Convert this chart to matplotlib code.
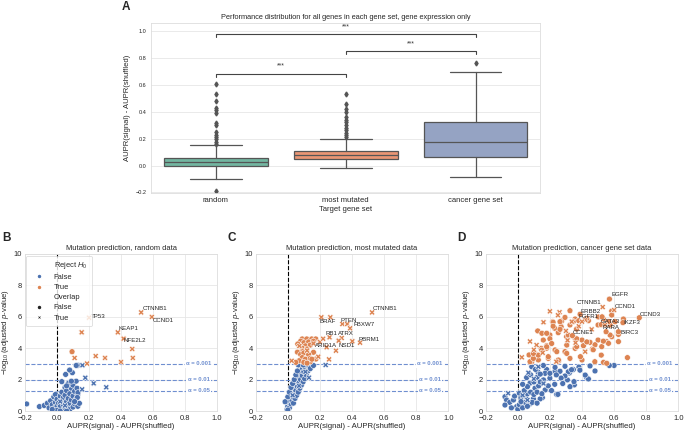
import matplotlib
matplotlib.use('Agg')
import matplotlib.pyplot as plt
import numpy as np
import seaborn as sns
from matplotlib.lines import Line2D

sns.set_style('whitegrid')
plt.rcParams['font.family'] = ['Liberation Sans', 'DejaVu Sans']
plt.rcParams['mathtext.fontset'] = 'custom'
plt.rcParams['mathtext.rm'] = 'Liberation Sans'
plt.rcParams['mathtext.it'] = 'Liberation Sans:italic'
plt.rcParams['axes.linewidth'] = 0.6
plt.rcParams['grid.linewidth'] = 0.6
plt.rcParams['axes.edgecolor'] = '#dddddd'
plt.rcParams['grid.color'] = '#e6e6e6'

# ---- panel A: box statistics ----
gene_sets = ['random', 'most mutated', 'cancer gene set']
box_q1 = [-0.005, 0.045, 0.065]
box_med = [0.028, 0.077, 0.177]
box_q3 = [0.058, 0.107, 0.327]
whisker_lo = [-0.10, -0.015, -0.085]
whisker_hi = [0.15, 0.195, 0.692]
outliers = [
    [0.605, 0.535, 0.48, 0.43, 0.41, 0.39, 0.315, 0.30, 0.25, 0.23, 0.215, 0.195, 0.175, 0.16, -0.19],
    [0.535, 0.46, 0.42, 0.395, 0.36, 0.34, 0.32, 0.30, 0.28, 0.265, 0.245, 0.225, 0.21],
    [0.765],
]
sig_pairs = [(0, 1), (1, 2), (0, 2)]
sig_heights = [0.683, 0.85, 0.978]

# ---- panel B: random genes ----
b_circ_x = [-0.19, -0.11, -0.08, -0.06, -0.05, -0.04, -0.03, -0.02, -0.02, -0.01, -0.01, 0.0, 0.0, 0.01,
            0.01, 0.02, 0.02, 0.03, 0.03, 0.04, 0.04, 0.04, 0.05, 0.05, 0.05, 0.06, 0.06, 0.07, 0.07, 0.07,
            0.08, 0.08, 0.08, 0.09, 0.09, 0.10, 0.10, 0.10, 0.11, 0.11, 0.12, 0.12, 0.13, 0.13, 0.14, 0.125,
            0.131, 0.127, 0.11, 0.03, 0.06, 0.09, 0.054, 0.096, 0.079, 0.131, 0.12, 0.0, -0.03, 0.02, 0.06,
            0.094]
b_circ_y = [0.45, 0.28, 0.35, 0.5, 0.2, 0.65, 0.4, 0.9, 0.15, 0.55, 1.05, 0.3, 0.75, 0.1,
            0.5, 0.95, 0.3, 0.65, 1.2, 0.05, 0.4, 0.85, 1.5, 0.2, 1.0, 0.6, 1.3, 0.3, 0.8, 1.75,
            0.1, 1.1, 0.5, 1.45, 0.7, 0.25, 0.95, 1.65, 0.45, 1.25, 0.75, 1.9, 1.05, 0.3, 0.49, 1.45,
            1.17, 0.86, 0.6, 1.87, 1.6, 1.9, 2.33, 2.44, 2.61, 2.91, 2.9, 0.05, 0.1, 0.0, 0.0,
            3.78]
b_cross_x = [0.159, 0.177, 0.229, 0.308, 0.157, 0.02, 0.05,
             0.11, 0.242, 0.30, 0.188, 0.40, 0.474, 0.47, 0.154, 0.2, 0.38, 0.416, 0.526, 0.593]
b_cross_y = [2.91, 2.12, 1.76, 1.51, 1.38, 0.6, 0.35,
             3.38, 3.5, 3.38, 3.02, 3.12, 3.38, 3.95, 5.01, 5.94, 5.01, 4.61, 6.28, 5.99]
b_genes = ['TP53', 'CTNNB1', 'CCND1', 'KEAP1', 'NFE2L2']
b_gene_x = [0.2, 0.526, 0.593, 0.38, 0.416]
b_gene_y = [5.94, 6.28, 5.99, 5.01, 4.61]
b_offsets = [(1, 1.1, 'left'), (0.8, 2.6, 'left'), (0.4, -2.9, 'left'), (0.6, 2.9, 'left'), (0.3, -1.4, 'left')]

# ---- panel C: most mutated genes ----
c_circ_x = [-0.005, 0.0, 0.005, 0.01, 0.015, 0.02, 0.02, 0.025, 0.03, 0.03, 0.035, 0.04, 0.04, 0.045,
            0.05, 0.05, 0.055, 0.06, 0.06, 0.065, 0.07, 0.07, 0.075, 0.08, 0.08, 0.085, 0.09, 0.09,
            0.095, 0.10, 0.10, 0.105, 0.11, 0.115, 0.12, 0.125, 0.13, 0.14, 0.16, 0.066, 0.097, -0.01,
            0.0, 0.01, 0.02, 0.03, 0.04, 0.05, 0.06, -0.017, 0.0,
            0.09, 0.118, 0.149, 0.174, 0.08, 0.10, 0.13, 0.16, 0.07, 0.11, 0.14, 0.09, 0.12, 0.062,
            0.093, 0.128, 0.14, 0.088, 0.16, 0.175, 0.06, 0.08, 0.10, 0.13, 0.09, 0.11, 0.14, 0.07,
            0.10, 0.12, 0.15, 0.05]
c_circ_y = [0.1, 0.3, 0.55, 0.2, 0.75, 0.45, 1.0, 0.65, 1.25, 0.9, 0.5, 1.45, 1.1, 0.8,
            1.7, 1.3, 1.0, 1.95, 1.55, 1.2, 2.2, 1.8, 1.45, 2.45, 2.0, 1.65, 2.7, 2.25,
            1.85, 2.9, 2.5, 2.05, 2.75, 2.3, 2.9, 2.55, 2.9, 2.7, 2.9, 2.93, 2.93, 0.6,
            0.9, 1.2, 1.5, 1.75, 2.0, 2.3, 2.55, 0.59, 0.06,
            4.59, 4.59, 4.59, 4.59, 4.45, 4.35, 4.4, 4.45, 4.2, 4.15, 4.2, 4.0, 3.95, 4.27,
            3.78, 3.4, 3.14, 3.2, 3.74, 3.31, 3.75, 3.6, 3.7, 3.6, 3.4, 3.3, 3.35, 3.2,
            3.1, 3.05, 3.3, 3.1]
c_cross_x = [0.236, 0.132, 0.11, 0.03, 0.07,
             0.024, 0.072, 0.12, 0.16, 0.209, 0.265, 0.34, 0.37, 0.388, 0.525, 0.26, 0.336,
             0.317, 0.402, 0.45, 0.30, 0.242, 0.257, 0.19, 0.20, 0.22]
c_cross_y = [2.93, 2.12, 2.5, 1.0, 1.6,
             3.2, 4.14, 3.85, 4.3, 5.97, 5.97, 5.54, 5.54, 5.27, 6.28, 4.69, 4.65,
             4.48, 4.44, 4.35, 3.84, 4.06, 3.29, 3.46, 4.4, 4.6]
c_genes = ['CTNNB1', 'BRAF', 'PTEN', 'FBXW7', 'RB1', 'ATRX', 'ARID1A', 'NSD1', 'PBRM1']
c_gene_x = [0.525, 0.209, 0.34, 0.388, 0.26, 0.336, 0.242, 0.30, 0.45]
c_gene_y = [6.28, 5.97, 5.54, 5.27, 4.69, 4.65, 4.06, 3.84, 4.35]
c_offsets = [(0.5, 2.6, 'left'), (-1.4, -2.7, 'left'), (-1.4, 2.2, 'left'), (2.4, 2.4, 'left'),
             (-3, 2.6, 'left'), (-2.4, 3, 'left'), (-8.4, 1.4, 'left'), (1.7, 3.9, 'left'),
             (-1.2, 2.5, 'left')]

# ---- panel D: cancer gene set ----
d_circ_x = [0.087, 0.124, 0.18, 0.232, 0.263, 0.294, 0.321, 0.346, 0.381, 0.309, 0.352, 0.429, 0.242,
            0.17, 0.107, 0.076, 0.16, 0.2, 0.055, 0.6, 0.481, 0.44, 0.42, 0.315, 0.35, 0.325, 0.23,
            0.25, 0.153, 0.45, 0.387, 0.335, 0.232, 0.159, 0.17, 0.294, 0.57,
            -0.08, -0.07, -0.05, -0.027, -0.02, 0.01, 0.02, 0.045, 0.076, 0.097, 0.139, -0.08, -0.007,
            0.0, 0.01, 0.03, 0.05, 0.06, 0.08, 0.10, 0.12, 0.04, -0.04, 0.02, 0.06, 0.09, 0.12, 0.15,
            0.13, 0.10, 0.08, 0.12, 0.14, 0.19, 0.21, 0.06, 0.03, 0.11, 0.14, 0.20, 0.27, 0.28, 0.24,
            0.325, 0.217, 0.273, 0.357, 0.44, 0.23, 0.27, 0.325, 0.366, 0.124, 0.15, 0.2, 0.252, 0.304,
            0.357, 0.4, 0.45, 0.5, 0.553, 0.585, 0.565, 0.523, 0.465, 0.409, 0.357, 0.294, 0.232, 0.18,
            0.145, 0.107, 0.07, 0.087, 0.128, 0.19, 0.254, 0.325, 0.4, 0.534, 0.683, 0.627, 0.627,
            0.575, 0.606, 0.658, 0.757, 0.571, 0.585, 0.585, 0.533, 0.5, 0.294, 0.22, 0.263, 0.346,
            0.388, 0.43, 0.502, 0.565, 0.655, 0.627, 0.575, 0.533, 0.481, 0.43, 0.367, 0.315, 0.263,
            0.22, 0.18, 0.159, 0.2, 0.305, 0.367, 0.47, 0.52, 0.48, 0.554, 0.39, 0.305, 0.243, 0.18,
            0.19, 0.253, 0.076, 0.097, 0.128, 0.149, 0.18, 0.211, 0.097, 0.525, 0.38, 0.52, 0.55, 0.34]
d_circ_y = [2.82, 2.5, 2.64, 2.53, 2.53, 2.85, 2.42, 2.64, 2.8, 1.98, 1.66, 2.13, 1.06,
            1.34, 1.45, 1.77, 1.98, 2.09, 2.13, 2.9, 2.55, 2.04, 2.29, 2.5, 1.87, 1.55, 1.7,
            1.06, 0.85, 2.87, 2.6, 2.63, 2.78, 2.9, 2.4, 2.23, 2.9,
            0.91, 0.7, 0.55, 0.7, 0.95, 1.13, 0.85, 0.55, 0.45, 0.77, 0.77, 0.38, 0.28,
            0.1, 0.4, 0.2, 0.9, 1.1, 1.2, 1.05, 1.2, 1.3, 0.2, 0.6, 0.3, 0.55, 0.5, 1.1,
            1.6, 1.85, 2.3, 2.15, 1.85, 1.6, 1.3, 1.55, 1.7, 2.65, 2.35, 2.4, 2.1, 1.75, 2.3,
            6.39, 5.69, 5.73, 5.86, 5.75, 5.27, 5.37, 5.48, 5.22, 5.1, 4.95, 4.84, 4.99, 4.73,
            4.63, 4.52, 4.37, 4.52, 4.42, 4.73, 4.31, 4.1, 3.95, 4.16, 3.99, 3.78, 3.89, 4.16,
            3.99, 3.67, 3.57, 3.14, 3.25, 3.35, 3.18, 3.35, 3.25, 3.1, 3.4, 4.88, 4.42,
            5.48, 5.69, 5.86, 5.94, 7.13, 6.37, 6.11, 5.86, 5.48, 5.96, 5.65, 5.69, 5.69,
            6.16, 5.9, 5.99, 5.69, 5.63, 5.05, 4.84, 4.45, 4.22, 4.4, 4.6, 4.84, 5.2,
            5.4, 4.95, 4.52, 4.6, 4.2, 4.1, 3.9, 3.56, 3.14, 3.04, 3.46, 3.67, 3.78, 4.0,
            3.46, 3.25, 3.14, 3.35, 3.56, 3.88, 4.09, 4.3, 3.67, 6.0, 5.75, 5.5, 5.05, 4.8]
d_cross_x = [0.066, 0.128, -0.06, 0.10, 0.16, 0.03, 0.06,
             0.025, 0.076, 0.117, 0.155, 0.24, 0.2, 0.26, 0.25, 0.16, 0.336, 0.38, 0.42, 0.4, 0.543,
             0.31, 0.36, 0.42, 0.3, 0.46, 0.6, 0.529, 0.1]
d_cross_y = [2.44, 2.82, 1.13, 2.05, 1.75, 1.0, 0.7,
             3.42, 4.43, 4.2, 3.71, 3.14, 6.35, 6.29, 6.1, 5.65, 5.69, 5.4, 5.8, 5.69, 5.48,
             4.5, 4.35, 3.78, 5.1, 5.2, 6.43, 6.62, 3.9]
d_genes = ['EGFR', 'CTNNB1', 'CCND1', 'ERBB2', 'FGFR1', 'GATA3', 'IKZF3', 'RARA', 'CCNE1', 'BIRC3', 'CCND3']
d_gene_x = [0.571, 0.529, 0.60, 0.525, 0.38, 0.52, 0.658, 0.55, 0.34, 0.627, 0.757]
d_gene_y = [7.13, 6.62, 6.43, 6.0, 5.75, 5.5, 5.86, 5.05, 4.8, 4.88, 5.94]
d_offsets = [(1.2, 3.2, 'left'), (-0.7, 3, 'right'), (0.2, 2.2, 'left'), (-0.8, 3.6, 'right'),
             (0.1, 3.0, 'left'), (-0.4, 2.4, 'left'), (0, -2.3, 'left'), (-2.4, 2.7, 'left'),
             (0, 2.6, 'left'), (1.6, 1.2, 'left'), (0.6, 2.4, 'left')]

alpha_levels = [0.001, 0.01, 0.05]
blue = '#4c72b0'
orange = '#dd8452'
line_blue = '#6f8fd0'
text_col = '#262626'

fig = plt.figure(figsize=(6.85, 4.32), dpi=100)

# ================= panel A =================
axA = fig.add_axes([0.22, 0.553, 0.569, 0.394])
stats = []
for i in range(3):
    stats.append(dict(med=box_med[i], q1=box_q1[i], q3=box_q3[i],
                      whislo=whisker_lo[i], whishi=whisker_hi[i], fliers=outliers[i]))
box_cols = [sns.desaturate(c, 0.75) for c in ['#66c2a5', '#fc8d62', '#8da0cb']]
edge = '#555555'
bp = axA.bxp(stats, positions=[0, 1, 2], widths=0.8, capwidths=0.4, patch_artist=True,
             boxprops=dict(edgecolor=edge, linewidth=0.9),
             medianprops=dict(color=edge, linewidth=0.9),
             whiskerprops=dict(color=edge, linewidth=0.9),
             capprops=dict(color=edge, linewidth=0.9),
             flierprops=dict(marker='d', markerfacecolor=edge, markeredgecolor=edge, markersize=2.5))
for patch, c in zip(bp['boxes'], box_cols):
    patch.set_facecolor(c)
axA.set_xlim(-0.5, 2.5)
axA.set_ylim(-0.205, 1.06)
axA.set_xticks([0, 1, 2])
axA.set_xticklabels(gene_sets, fontsize=5.5, color=text_col)
axA.tick_params(axis='both', length=0)
axA.tick_params(axis='y', labelsize=4, pad=3, labelcolor=text_col)
axA.tick_params(axis='x', pad=3)
axA.xaxis.grid(False)
axA.set_yticks([-0.2, 0.0, 0.2, 0.4, 0.6, 0.8, 1.0])
axA.set_xlabel('Target gene set', fontsize=5.5, labelpad=1, color=text_col)
axA.set_ylabel('AUPR(signal) - AUPR(shuffled)', fontsize=5.5, labelpad=3, color=text_col)
axA.set_title('Performance distribution for all genes in each gene set, gene expression only',
              fontsize=5.3, pad=3, color=text_col)
for (a, b), h in zip(sig_pairs, sig_heights):
    axA.plot([a, a, b, b], [h - 0.022, h, h, h - 0.022], color='#444444', lw=0.8)
    axA.text((a + b) / 2, h + 0.03, '***', ha='center', va='bottom', fontsize=5, color='#333333')
fig.text(122 / 685, 0.997, 'A', fontsize=8.5, fontweight='bold', va='top')


def volcano(ax, cx, cy, xx, xy, genes, gx, gy, offsets, title, show_legend=False):
    c_col = [orange if y >= 3 else blue for y in cy]
    x_col = [orange if y >= 3 else blue for y in xy]
    ax.scatter(cx, cy, c=c_col, s=18, marker='o', edgecolors='white', linewidths=0.4, zorder=3)
    ax.scatter(xx, xy, c=x_col, s=18, marker='X', edgecolors='white', linewidths=0.4, zorder=3)
    ax.axvline(0, color='black', linestyle='--', lw=0.8, zorder=2)
    for a in alpha_levels:
        ya = -np.log10(a)
        ax.axhline(ya, color=line_blue, linestyle='--', lw=0.8, zorder=2)
        ax.text(0.885, ya, '\u03b1 = {}'.format(a), color=line_blue, fontsize=4.2, fontweight='bold',
                ha='center', va='center', zorder=4,
                bbox=dict(facecolor='white', edgecolor='none', pad=1.0))
    for g, x, y, (dx, dy, ha) in zip(genes, gx, gy, offsets):
        ax.annotate(g, (x, y), xytext=(dx, dy), textcoords='offset points', ha=ha, va='center',
                    fontsize=4.4, color=text_col, zorder=5)
    ax.set_xlim(-0.2, 1.0)
    ax.set_ylim(0, 10)
    ax.set_xticks([-0.2, 0.0, 0.2, 0.4, 0.6, 0.8, 1.0])
    ax.set_yticks([0, 2, 4, 6, 8, 10])
    ax.tick_params(length=0, labelsize=5.4, labelcolor=text_col)
    ax.tick_params(axis='y', pad=2)
    ax.tick_params(axis='x', pad=3.2)
    ax.set_title(title, fontsize=5.4, pad=3, color=text_col)
    ax.set_xlabel('AUPR(signal) - AUPR(shuffled)', fontsize=5.6, labelpad=0.3, color=text_col)
    ax.set_ylabel(r'$-\log_{10}$(adjusted $p$-value)', fontsize=5.6, labelpad=2, color=text_col)
    if show_legend:
        handles = [
            Line2D([], [], linestyle='none'),
            Line2D([], [], linestyle='none', marker='o', color=blue, markeredgecolor='white', markersize=3.5),
            Line2D([], [], linestyle='none', marker='o', color=orange, markeredgecolor='white', markersize=3.5),
            Line2D([], [], linestyle='none'),
            Line2D([], [], linestyle='none', marker='o', color='#222222', markeredgecolor='white', markersize=3.5),
            Line2D([], [], linestyle='none', marker='X', color='#222222', markeredgecolor='white', markersize=3.5),
        ]
        labels = [r'Reject $H_0$', 'False', 'True', 'Overlap', 'False', 'True']
        leg = ax.legend(handles, labels, loc='upper left', fontsize=5.4, frameon=True,
                        borderaxespad=0.2, labelspacing=0.38, handletextpad=1.0, borderpad=0.6)
        leg.get_frame().set_linewidth(0.5)
        for t in leg.get_texts():
            t.set_color(text_col)
        leg.set_zorder(6)


axB = fig.add_axes([25 / 685, 21 / 432, 192 / 685, 157 / 432])
volcano(axB, b_circ_x, b_circ_y, b_cross_x, b_cross_y, b_genes, b_gene_x, b_gene_y, b_offsets,
        'Mutation prediction, random data', show_legend=True)
axC = fig.add_axes([255.7 / 685, 21 / 432, 192.6 / 685, 157 / 432])
volcano(axC, c_circ_x, c_circ_y, c_cross_x, c_cross_y, c_genes, c_gene_x, c_gene_y, c_offsets,
        'Mutation prediction, most mutated data')
axD = fig.add_axes([485.7 / 685, 21 / 432, 192.6 / 685, 157 / 432])
volcano(axD, d_circ_x, d_circ_y, d_cross_x, d_cross_y, d_genes, d_gene_x, d_gene_y, d_offsets,
        'Mutation prediction, cancer gene set data')

fig.text(2 / 685, 1 - 232 / 432, 'B', fontsize=8.5, fontweight='bold', va='top')
fig.text(228 / 685, 1 - 232 / 432, 'C', fontsize=8.5, fontweight='bold', va='top')
fig.text(457 / 685, 1 - 232 / 432, 'D', fontsize=8.5, fontweight='bold', va='top')

fig.savefig('out.png', dpi=100)
